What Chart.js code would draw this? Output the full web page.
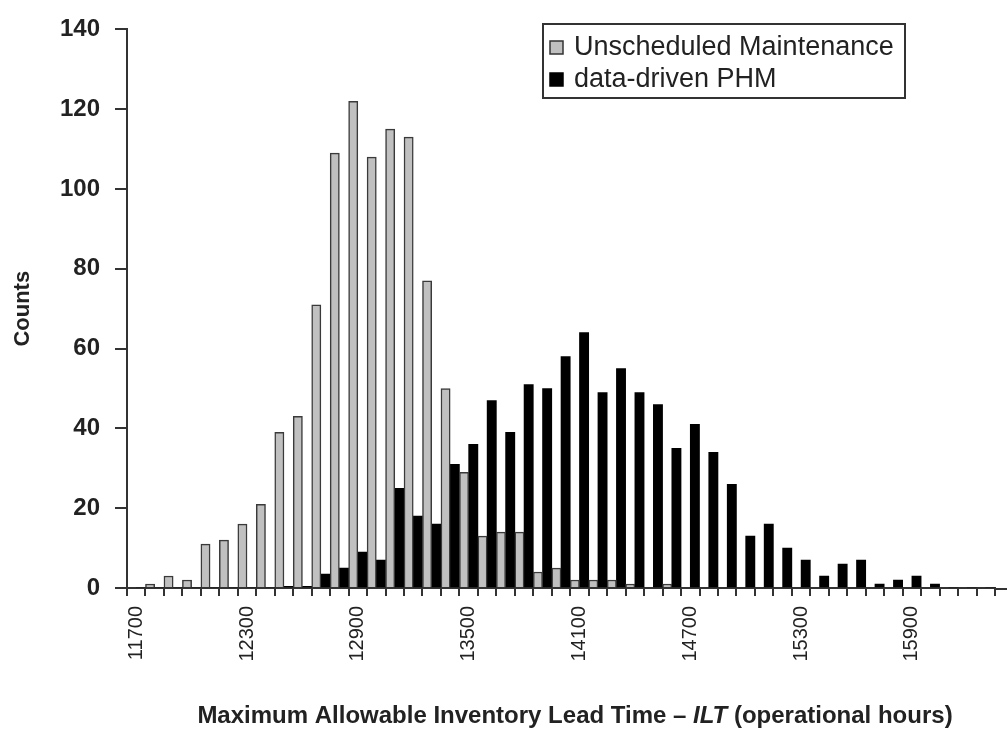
<!DOCTYPE html>
<html>
<head>
<meta charset="utf-8">
<title>ILT histogram</title>
<script src="https://cdn.jsdelivr.net/npm/chart.js@4.4.0/dist/chart.umd.min.js"></script>
<style>
  html, body { margin: 0; padding: 0; background: #fff; }
  #wrap { width: 1007px; height: 734px; }
</style>
</head>
<body>
<div id="wrap"><canvas id="ilt" width="1007" height="734"></canvas></div>
<script>
// bins of 100 operational hours
const binLabels = [
  '11700', '11800', '11900', '12000', '12100', '12200', '12300', '12400', '12500', '12600',
  '12700', '12800', '12900', '13000', '13100', '13200', '13300', '13400', '13500', '13600',
  '13700', '13800', '13900', '14000', '14100', '14200', '14300', '14400', '14500', '14600',
  '14700', '14800', '14900', '15000', '15100', '15200', '15300', '15400', '15500', '15600',
  '15700', '15800', '15900', '16000', '16100', '16200', '16300'
];

// only every sixth bin gets a printed label
const shownLabels = ['11700', '12300', '12900', '13500', '14100', '14700', '15300', '15900'];

const unscheduledCounts = [
  0, 1, 3, 2, 11, 12, 16, 21, 39, 43,
  71, 109, 122, 108, 115, 113, 77, 50, 29, 13,
  14, 14, 4, 5, 2, 2, 2, 1, 0, 1,
  0, 0, 0, 0, 0, 0, 0, 0, 0, 0,
  0, 0, 0, 0, 0, 0, 0
];

const phmCounts = [
  0, 0, 0, 0, 0, 0, 0, 0, 0.4, 0.4,
  3.5, 5, 9, 7, 25, 18, 16, 31, 36, 47,
  39, 51, 50, 58, 64, 49, 55, 49, 46, 35,
  41, 34, 26, 13, 16, 10, 7, 3, 6, 7,
  1, 2, 3, 1, 0, 0, 0
];

const yTicks = [0, 20, 40, 60, 80, 100, 120, 140];

const FONT = "'Liberation Sans', Arial, sans-serif";
const INK = '#222';
const AXIS = '#333';

// boxed legend drawn inside the plot, top right
const boxLegend = {
  id: 'boxLegend',
  afterDraw(chart, args, opts) {
    const ctx = chart.ctx;
    ctx.save();
    ctx.fillStyle = '#fff';
    ctx.fillRect(opts.x, opts.y, opts.w, opts.h);
    ctx.strokeStyle = AXIS;
    ctx.lineWidth = 2;
    ctx.strokeRect(opts.x, opts.y, opts.w, opts.h);
    ctx.font = opts.fontSize + 'px ' + FONT;
    ctx.textBaseline = 'middle';
    ctx.textAlign = 'left';
    chart.data.datasets.forEach((ds, i) => {
      const cy = opts.y + opts.firstRow + i * opts.rowGap;
      ctx.fillStyle = ds.backgroundColor;
      ctx.fillRect(opts.x + 7, cy - 6, 13, 13);
      ctx.strokeStyle = i === 0 ? '#333' : '#000';
      ctx.lineWidth = 1.5;
      ctx.strokeRect(opts.x + 7, cy - 6, 13, 13);
      ctx.fillStyle = INK;
      ctx.fillText(ds.label, opts.x + 31, cy + 1);
    });
    ctx.restore();
  }
};

// x axis title with the italic symbol in the middle
const xTitle = {
  id: 'xTitle',
  afterDraw(chart, args, opts) {
    const ctx = chart.ctx;
    const parts = opts.parts;
    ctx.save();
    ctx.fillStyle = INK;
    ctx.textBaseline = 'middle';
    ctx.textAlign = 'left';
    let total = 0;
    parts.forEach(p => {
      ctx.font = (p.italic ? 'italic ' : '') + 'bold ' + opts.fontSize + 'px ' + FONT;
      p.w = ctx.measureText(p.text).width;
      total += p.w;
    });
    let x = opts.cx - total / 2;
    parts.forEach(p => {
      ctx.font = (p.italic ? 'italic ' : '') + 'bold ' + opts.fontSize + 'px ' + FONT;
      ctx.fillText(p.text, x, opts.cy);
      x += p.w;
    });
    ctx.restore();
  }
};

// the category axis line runs on past the last bin to the edge
const axisTail = {
  id: 'axisTail',
  afterDraw(chart) {
    const { ctx, chartArea } = chart;
    ctx.save();
    ctx.strokeStyle = AXIS;
    ctx.lineWidth = 2;
    ctx.beginPath();
    ctx.moveTo(chartArea.right, chartArea.bottom + 1);
    ctx.lineTo(chart.width, chartArea.bottom + 1);
    ctx.stroke();
    ctx.restore();
  }
};

new Chart(document.getElementById('ilt'), {
  type: 'bar',
  data: {
    labels: binLabels,
    datasets: [
      {
        label: 'Unscheduled Maintenance',
        data: unscheduledCounts,
        backgroundColor: '#c0c0c0',
        borderColor: '#3a3a3a',
        borderWidth: 1.5,
        categoryPercentage: 1.0,
        barPercentage: 1.0
      },
      {
        label: 'data-driven PHM',
        data: phmCounts,
        backgroundColor: '#000',
        borderColor: '#000',
        borderWidth: 0,
        categoryPercentage: 1.0,
        barPercentage: 1.0
      }
    ]
  },
  options: {
    responsive: false,
    animation: false,
    layout: { padding: { left: 0, right: 12, top: 20, bottom: 0 } },
    plugins: {
      legend: { display: false },
      tooltip: { enabled: false },
      boxLegend: { x: 543, y: 24, w: 362, h: 74, firstRow: 23, rowGap: 32, fontSize: 27 },
      xTitle: {
        cx: 575, cy: 716, fontSize: 24,
        parts: [
          { text: 'Maximum Allowable Inventory Lead Time \u2013 ' },
          { text: 'ILT', italic: true },
          { text: ' (operational hours)' }
        ]
      }
    },
    scales: {
      x: {
        afterFit(scale) {
          scale.height = 146;
          scale.paddingLeft = 0;
          scale.paddingRight = 0;
        },
        grid: { display: true, drawOnChartArea: false, drawTicks: true, tickLength: 8, color: AXIS, lineWidth: 2 },
        border: { display: true, color: AXIS, width: 2 },
        ticks: {
          autoSkip: false,
          minRotation: 90,
          maxRotation: 90,
          padding: 10,
          color: INK,
          font: { family: FONT, size: 20 },
          callback(value) {
            const lab = binLabels[value];
            return shownLabels.includes(lab) ? lab : '';
          }
        }
      },
      y: {
        min: yTicks[0],
        max: yTicks[yTicks.length - 1],
        afterFit(scale) { scale.width = 127; },
        afterBuildTicks(scale) { scale.ticks = yTicks.map(v => ({ value: v })); },
        grid: { display: true, drawOnChartArea: false, drawTicks: true, tickLength: 12, color: AXIS, lineWidth: 2 },
        border: { display: true, color: AXIS, width: 2 },
        ticks: {
          padding: 15,
          color: INK,
          font: { family: FONT, size: 24, weight: 'bold' }
        },
        title: {
          display: true,
          text: 'Counts',
          color: INK,
          padding: { top: 10, bottom: 0 },
          font: { family: FONT, size: 22, weight: 'bold' }
        }
      }
    }
  },
  plugins: [boxLegend, xTitle, axisTail]
});
</script>
</body>
</html>
